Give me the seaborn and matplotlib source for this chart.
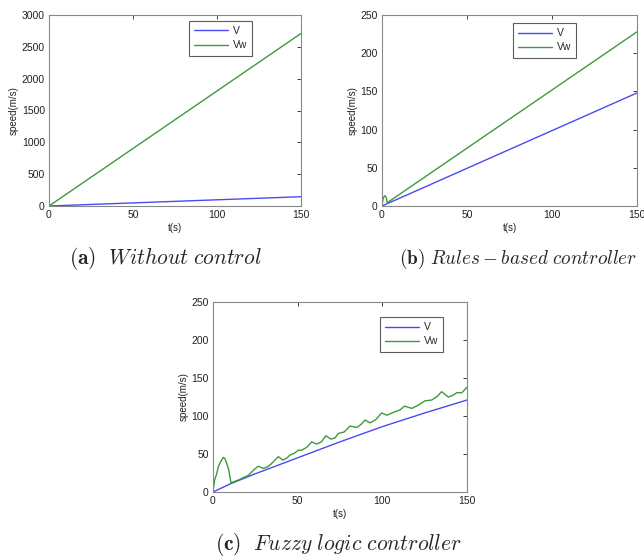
import numpy as np
import pandas as pd
import seaborn as sns
import matplotlib
matplotlib.use("Agg")
import matplotlib.pyplot as plt

# ---- data ----
# (a) Without control
ta_v = [0, 150]
va_v = [0, 146]
ta_w = [0, 150]
va_w = [0, 2710]

# (b) Rules-based controller
tb_v = [0, 150]
vb_v = [0, 148]
tb_w = [0, 0.5, 1.0, 1.8, 2.5, 3.1, 150]
vb_w = [0, 8, 11.5, 13.5, 11, 4.3, 228]

# (c) Fuzzy logic controller
tc_v = [0, 10, 25, 50, 75, 100, 125, 150]
vc_v = [0, 10.5, 24, 45, 66, 86, 104, 121]
tc_w = [0, 1.0, 2.2, 3.1, 4.5, 6.1, 7.0, 8.1, 9.2, 10.0, 10.6, 15.0, 20.9, 24.5, 26.8, 29.7,
        32.5, 34.7, 37.0, 38.6, 41.2, 43.5, 45.5, 48.0, 50.4, 52.4, 55.5, 58.3, 61.2, 64.0,
        66.7, 69.5, 72.0, 74.0, 77.5, 80.9, 84.9, 87.5, 89.8, 92.7, 96.0, 99.6, 102.6,
        107.5, 110.5, 113.0, 117.4, 121.0, 125.2, 129.2, 132.5, 135.0, 139.0, 141.5,
        144.0, 147.0, 150.0]
vc_w = [0, 16, 24, 33, 40, 45.6, 44, 37.7, 30, 20, 12, 15.8, 22, 30, 34, 31,
        33.5, 37.7, 43, 46.5, 42, 44.5, 48.7, 51, 55, 55, 59, 66, 63, 66,
        74, 69.7, 71, 77, 79, 86.8, 85, 89, 94.7, 91, 95, 104, 101,
        105.6, 108, 113, 110, 114, 120, 121, 126, 132, 125, 127,
        130.7, 130.7, 138]

series_labels = ["V", "Vw"]
captions = [r"$\mathbf{(a)}\ \ Without\ control$",
            r"$\mathbf{(b)}\ Rules-based\ controller$",
            r"$\mathbf{(c)}\ \ Fuzzy\ logic\ controller$"]
x_ticks = [0, 50, 100, 150]
y_ticks_a = [0, 500, 1000, 1500, 2000, 2500, 3000]
y_ticks_bc = [0, 50, 100, 150, 200, 250]

sns.set_style("white")
plt.rcParams["font.family"] = ["Liberation Sans", "DejaVu Sans"]
plt.rcParams["mathtext.fontset"] = "cm"

W, H = 644, 557
fig = plt.figure(figsize=(W / 100, H / 100), dpi=100)

def ax_at(l, t, r, b):
    return fig.add_axes([l / W, 1 - b / H, (r - l) / W, (b - t) / H])

axes = [ax_at(49, 15, 301, 206), ax_at(382, 15, 637, 206), ax_at(213, 302, 467, 492)]

blue = "#4a4af5"
green = "#3c9a3c"

def draw(ax, tv, vv, tw, vw, yticks, anchor):
    dv = pd.DataFrame({"t": tv, "speed": vv})
    dw = pd.DataFrame({"t": tw, "speed": vw})
    sns.lineplot(data=dv, x="t", y="speed", ax=ax, color=blue, lw=1.0, label=series_labels[0])
    sns.lineplot(data=dw, x="t", y="speed", ax=ax, color=green, lw=1.0, label=series_labels[1])
    ax.set_xlim(0, 150)
    ax.set_ylim(yticks[0], yticks[-1])
    ax.set_xticks(x_ticks)
    ax.set_yticks(yticks)
    ax.tick_params(direction="in", length=3, width=0.6, top=True, right=True,
                   labelsize=7.5, colors="#222222", labelcolor="#222222", pad=3)
    for s in ax.spines.values():
        s.set_color("#888888")
        s.set_linewidth(0.8)
    ax.set_xlabel("t(s)", fontsize=7, color="#222222", labelpad=2)
    ax.set_ylabel("speed(m/s)", fontsize=7, color="#222222", labelpad=2)
    leg = ax.legend(loc="upper right", bbox_to_anchor=anchor, fontsize=7.5,
                    frameon=True, fancybox=False, borderpad=0.5, handlelength=3.3,
                    labelspacing=0.4, handletextpad=0.4, borderaxespad=0.0)
    leg.get_frame().set_edgecolor("#333333")
    leg.get_frame().set_linewidth(0.8)

draw(axes[0], ta_v, va_v, ta_w, va_w, y_ticks_a, (0.806, 0.969))
draw(axes[1], tb_v, vb_v, tb_w, vb_w, y_ticks_bc, (0.761, 0.958))
draw(axes[2], tc_v, vc_v, tc_w, vc_w, y_ticks_bc, (0.906, 0.921))

fig.text(165 / W, 1 - 259 / H, captions[0], ha="center", va="center", fontsize=15.5)
fig.text(518 / W, 1 - 259 / H, captions[1], ha="center", va="center", fontsize=13.8)
fig.text(338 / W, 1 - 545 / H, captions[2], ha="center", va="center", fontsize=15.5)

fig.savefig("out.png", dpi=100, facecolor="white")
